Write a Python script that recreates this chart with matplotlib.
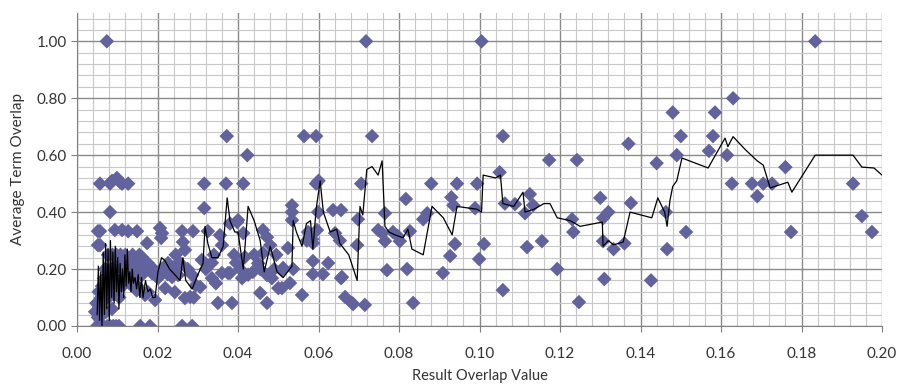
import numpy as np
import matplotlib
matplotlib.use("Agg")
import matplotlib.pyplot as plt
from matplotlib.ticker import MultipleLocator

plt.rcParams['font.family'] = ['Lato', 'DejaVu Sans']

# scatter: result overlap (x) vs average term overlap (y)
scatter_x = [
    # top values
    0.0074, 0.0718, 0.1005, 0.1834, 0.163, 0.148, 0.1585,
    0.0372, 0.0564, 0.0594, 0.0733, 0.1058, 0.150, 0.158,
    0.137, 0.157, 0.0423, 0.149, 0.1615, 0.1173, 0.1242, 0.144, 0.176, 0.105,
    # row at 0.5
    0.0057, 0.0082, 0.0087, 0.0099, 0.0107, 0.0112, 0.0127, 0.0316, 0.037, 0.0413,
    0.0594, 0.060, 0.0706, 0.088, 0.0944, 0.0994, 0.1627, 0.1677, 0.1705, 0.1727, 0.1928,
    # 0.36 - 0.47
    0.0817, 0.093, 0.1125, 0.130, 0.169, 0.1376, 0.0935, 0.1133, 0.1063, 0.1088,
    0.0534, 0.0316, 0.0989, 0.0599, 0.0636, 0.0656, 0.0765, 0.087, 0.1113, 0.132,
    0.1463, 0.0082, 0.0534, 0.0534, 0.195, 0.1307, 0.0698, 0.086, 0.123, 0.040,
    0.0398, 0.038,
    # 0.26 - 0.35
    0.0057, 0.0094, 0.0112, 0.0127, 0.0149, 0.0206, 0.0211, 0.0209, 0.0261, 0.0288,
    0.0325, 0.0355, 0.0413, 0.0462, 0.0472, 0.0574, 0.0584, 0.0571, 0.0596, 0.0641,
    0.0653, 0.0748, 0.0758, 0.0765, 0.0785, 0.0797, 0.0827, 0.0802, 0.1233, 0.1513,
    0.1774, 0.1975, 0.0057, 0.0174, 0.0263, 0.036, 0.048, 0.0524, 0.0696, 0.0939,
    0.1011, 0.1118, 0.1155, 0.1307, 0.136, 0.1333, 0.1466, 0.0586, 0.0268,
    # 0.19 - 0.26
    0.0161, 0.0132, 0.0107, 0.0226, 0.0251, 0.031, 0.0462, 0.0417, 0.0927, 0.0999,
    0.0586, 0.0624, 0.0512, 0.0537, 0.0509, 0.077, 0.082, 0.0909, 0.1193,
    # 0.13 - 0.19
    0.0335, 0.036, 0.0375, 0.041, 0.0161, 0.0186, 0.0201, 0.0236, 0.0251, 0.0286,
    0.038, 0.0437, 0.0472, 0.0484, 0.0586, 0.0611, 0.0658, 0.0656, 0.131, 0.1426,
    0.0529, 0.0306, 0.0152, 0.0219, 0.050, 0.0509,
    # below 0.13
    0.0176, 0.0243, 0.0268, 0.0281, 0.035, 0.0385, 0.0169, 0.0194, 0.0455, 0.0472,
    0.0559, 0.0666, 0.0683, 0.0686, 0.0715, 0.0835, 0.1058, 0.1247,
    0.0157, 0.0181, 0.0261, 0.0286,
    # dense cluster near the origin
    0.0045, 0.0048, 0.0050, 0.0052, 0.0054, 0.0055, 0.0058, 0.0060, 0.0062, 0.0063,
    0.0065, 0.0067, 0.0068, 0.0070, 0.0072, 0.0073, 0.0075, 0.0077, 0.0078, 0.0080,
    0.0082, 0.0083, 0.0085, 0.0087, 0.0088, 0.0090, 0.0092, 0.0093, 0.0095, 0.0097,
    0.0098, 0.0100, 0.0102, 0.0104, 0.0105, 0.0108, 0.0110, 0.0112, 0.0115, 0.0118,
    0.0120, 0.0122, 0.0125, 0.0130, 0.0135, 0.0140, 0.0145, 0.0150, 0.0155, 0.0138,
    0.0142, 0.0148, 0.0052, 0.0052,
    # extra points 0.016 - 0.05
    0.0165, 0.0175, 0.0190, 0.0210, 0.0225, 0.0235, 0.0245, 0.0255, 0.0275, 0.0290,
    0.0295, 0.0320, 0.0335, 0.0340, 0.0345, 0.0390, 0.0395, 0.0405, 0.0425, 0.0440,
    0.0450, 0.0455, 0.0490, 0.0495,
]
scatter_y = [
    1.0, 1.0, 1.0, 1.0, 0.80, 0.75, 0.75,
    0.667, 0.667, 0.667, 0.667, 0.667, 0.667, 0.667,
    0.64, 0.615, 0.60, 0.60, 0.60, 0.583, 0.583, 0.572, 0.558, 0.54,
    0.50, 0.50, 0.51, 0.52, 0.505, 0.50, 0.50, 0.50, 0.50, 0.50,
    0.50, 0.51, 0.50, 0.50, 0.50, 0.50, 0.50, 0.50, 0.50, 0.50, 0.50,
    0.446, 0.452, 0.463, 0.45, 0.456, 0.432, 0.424, 0.424, 0.43, 0.428,
    0.424, 0.414, 0.414, 0.40, 0.407, 0.407, 0.396, 0.396, 0.396, 0.40,
    0.40, 0.40, 0.40, 0.372, 0.386, 0.379, 0.375, 0.375, 0.375, 0.372,
    0.365, 0.36,
    0.333, 0.337, 0.337, 0.333, 0.333, 0.344, 0.326, 0.309, 0.333, 0.333,
    0.333, 0.319, 0.326, 0.337, 0.312, 0.33, 0.305, 0.30, 0.337, 0.326,
    0.30, 0.337, 0.326, 0.298, 0.33, 0.316, 0.333, 0.298, 0.33, 0.33,
    0.33, 0.33, 0.284, 0.291, 0.295, 0.284, 0.284, 0.274, 0.284, 0.288,
    0.288, 0.277, 0.298, 0.298, 0.29, 0.27, 0.27, 0.291, 0.267,
    0.242, 0.232, 0.207, 0.221, 0.221, 0.232, 0.256, 0.242, 0.246, 0.235,
    0.228, 0.221, 0.204, 0.20, 0.196, 0.196, 0.20, 0.186, 0.20,
    0.168, 0.186, 0.186, 0.168, 0.179, 0.186, 0.168, 0.172, 0.179, 0.179,
    0.186, 0.19, 0.179, 0.168, 0.182, 0.182, 0.172, 0.168, 0.165, 0.16,
    0.151, 0.137, 0.137, 0.133, 0.133, 0.133,
    0.119, 0.119, 0.098, 0.102, 0.081, 0.081, 0.109, 0.091, 0.116, 0.081,
    0.109, 0.102, 0.081, 0.077, 0.074, 0.081, 0.126, 0.084,
    0.0, 0.0, 0.0, 0.0,
    0.05, 0.08, 0.0, 0.03, 0.12, 0.07, 0.0, 0.10, 0.14, 0.04,
    0.0, 0.167, 0.09, 0.20, 0.05, 0.125, 0.0, 0.25, 0.10, 0.167,
    0.0, 0.143, 0.20, 0.06, 0.25, 0.0, 0.111, 0.20, 0.167, 0.0,
    0.25, 0.125, 0.222, 0.0, 0.10, 0.25, 0.167, 0.20, 0.143, 0.222,
    0.25, 0.182, 0.20, 0.15, 0.20, 0.167, 0.22, 0.20, 0.25, 0.25,
    0.143, 0.125, 0.284, 0.333,
    0.20, 0.222, 0.20, 0.20, 0.182, 0.20, 0.25, 0.222, 0.20, 0.10,
    0.143, 0.20, 0.222, 0.25, 0.15, 0.25, 0.222, 0.20, 0.18, 0.25,
    0.22, 0.20, 0.20, 0.25,
]

# running average line
line_x = [
    0.0050, 0.0053, 0.0056, 0.0059, 0.0062, 0.0065, 0.0068, 0.0071, 0.0074, 0.0077,
    0.0080, 0.0083, 0.0086, 0.0089, 0.0092, 0.0095, 0.0098, 0.0101, 0.0104, 0.0107,
    0.0110, 0.0113, 0.0116, 0.0119, 0.0122, 0.0125, 0.0128, 0.0131, 0.0134, 0.0137,
    0.0140, 0.0144, 0.0148, 0.0152, 0.0156, 0.0160, 0.0164, 0.0170, 0.0176, 0.0182,
    0.0188, 0.0194, 0.0201, 0.0210, 0.0218, 0.0230, 0.0243, 0.0256, 0.0263, 0.0270,
    0.0286, 0.0300, 0.0313, 0.0318, 0.0325, 0.0335, 0.0350, 0.0363, 0.0373, 0.0380,
    0.0392, 0.0400, 0.0413, 0.0425, 0.0440, 0.0455, 0.0465, 0.0480, 0.0497, 0.0512,
    0.0534, 0.0537, 0.0545, 0.0559, 0.0570, 0.0580, 0.0586, 0.0594, 0.0604, 0.0612,
    0.0629, 0.0645, 0.0653, 0.0675, 0.0696, 0.0703, 0.0710, 0.0720, 0.0733, 0.0748,
    0.0758, 0.0762, 0.0765, 0.0775, 0.0790, 0.0810, 0.0822, 0.0832, 0.0860, 0.0882,
    0.0910, 0.0932, 0.0944, 0.0994, 0.1005, 0.1009, 0.1040, 0.1052, 0.1058, 0.1085,
    0.1108, 0.1113, 0.1135, 0.1160, 0.1175, 0.1193, 0.1225, 0.1250, 0.1305, 0.1307,
    0.1320, 0.1333, 0.1357, 0.1374, 0.1428, 0.1443, 0.1460, 0.1466, 0.1473, 0.1480,
    0.1490, 0.1503, 0.1568, 0.1610, 0.1617, 0.1630, 0.1660, 0.1690, 0.1705, 0.1722,
    0.1766, 0.1776, 0.1834, 0.1928, 0.1950, 0.1980, 0.2000,
]
line_y = [
    0.04, 0.21, 0.02, 0.19, 0.00, 0.26, 0.04, 0.29, 0.06, 0.27,
    0.02, 0.30, 0.10, 0.26, 0.08, 0.28, 0.12, 0.24, 0.06, 0.22,
    0.12, 0.20, 0.10, 0.25, 0.14, 0.27, 0.15, 0.19, 0.12, 0.20,
    0.15, 0.17, 0.13, 0.18, 0.10, 0.17, 0.10, 0.16, 0.12, 0.13,
    0.10, 0.10, 0.19, 0.24, 0.23, 0.20, 0.18, 0.16, 0.24, 0.16,
    0.13, 0.18, 0.22, 0.35, 0.29, 0.24, 0.24, 0.28, 0.45, 0.37,
    0.33, 0.33, 0.20, 0.42, 0.37, 0.30, 0.19, 0.28, 0.19, 0.17,
    0.21, 0.37, 0.33, 0.28, 0.36, 0.37, 0.27, 0.41, 0.51, 0.40,
    0.33, 0.34, 0.29, 0.25, 0.16, 0.42, 0.39, 0.55, 0.56, 0.53,
    0.58, 0.45, 0.35, 0.33, 0.32, 0.31, 0.34, 0.27, 0.25, 0.42,
    0.38, 0.32, 0.42, 0.41, 0.40, 0.53, 0.52, 0.53, 0.43, 0.42,
    0.47, 0.40, 0.41, 0.43, 0.43, 0.38, 0.37, 0.35, 0.365, 0.28,
    0.30, 0.285, 0.295, 0.40, 0.38, 0.45, 0.40, 0.35, 0.44, 0.49,
    0.51, 0.59, 0.555, 0.66, 0.63, 0.665, 0.62, 0.58, 0.565, 0.485,
    0.505, 0.47, 0.60, 0.60, 0.558, 0.555, 0.53,
]

fig = plt.figure(figsize=(8.99, 3.89), dpi=100)
ax = fig.add_axes([0.0857, 0.162, 0.8954, 0.805])

ax.scatter(scatter_x, scatter_y, marker='D', s=55, color='#62629C',
           edgecolors='none', zorder=3)
ax.plot(line_x, line_y, color='black', lw=0.9, zorder=4)

ax.set_xlim(0, 0.2)
ax.set_ylim(0, 1.1)
ax.xaxis.set_major_locator(MultipleLocator(0.02))
ax.xaxis.set_minor_locator(MultipleLocator(0.004))
ax.yaxis.set_major_locator(MultipleLocator(0.2))
ax.yaxis.set_minor_locator(MultipleLocator(0.04))
ax.xaxis.set_major_formatter(plt.FormatStrFormatter('%.2f'))
ax.yaxis.set_major_formatter(plt.FormatStrFormatter('%.2f'))

ax.grid(which='major', color='#8a8a8a', lw=1.0, zorder=1)
ax.grid(which='minor', color='#c8c8c8', lw=0.8, zorder=0)
ax.set_axisbelow(True)

for side in ['top', 'right']:
    ax.spines[side].set_visible(False)
ax.spines['left'].set_color('#808080')
ax.spines['bottom'].set_color('#808080')

ax.tick_params(which='major', length=4, color='#808080', labelsize=11,
               labelcolor='#333333')
ax.tick_params(axis='x', pad=11)
ax.tick_params(which='minor', length=0)

ax.set_xlabel('Result Overlap Value', fontsize=10.5, labelpad=6, color='#333333')
ax.set_ylabel('Average Term Overlap', fontsize=11, labelpad=8, color='#333333')

fig.savefig('out.png', dpi=100)
